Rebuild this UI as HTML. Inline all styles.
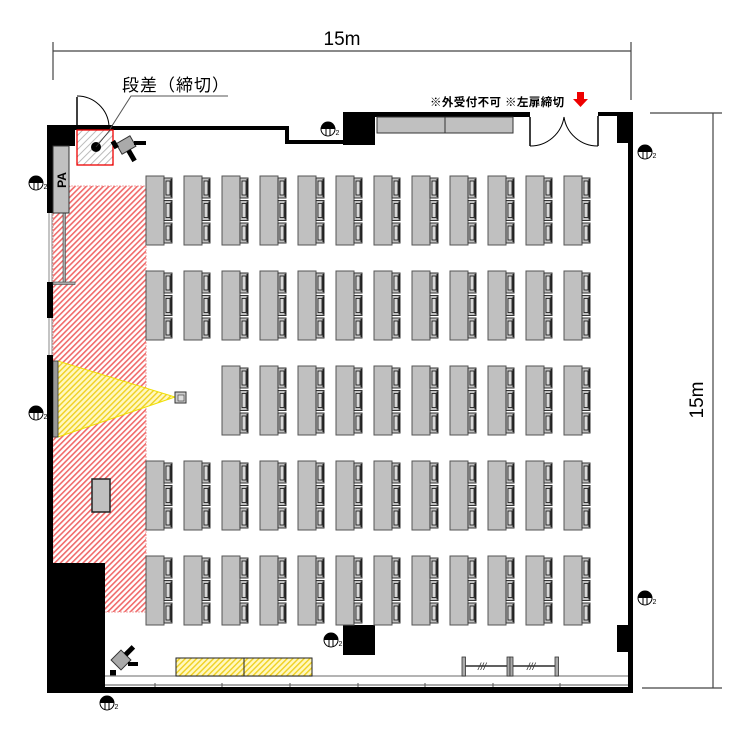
<!DOCTYPE html>
<html><head><meta charset="utf-8"><style>html,body{margin:0;padding:0;background:#fff}svg{display:block}</style></head>
<body>
<svg width="750" height="750" viewBox="0 0 750 750" xmlns="http://www.w3.org/2000/svg">
<defs>
<pattern id="red" width="4" height="4" patternUnits="userSpaceOnUse" patternTransform="rotate(45)"><rect width="4" height="4" fill="#fff"/><rect width="1.6" height="4" fill="#f06a6a"/></pattern>
<pattern id="yel" width="4" height="4" patternUnits="userSpaceOnUse" patternTransform="rotate(45)"><rect width="4" height="4" fill="#fff8c0"/><rect width="1.4" height="4" fill="#f0d020"/></pattern>
<pattern id="gry" width="5" height="5" patternUnits="userSpaceOnUse" patternTransform="rotate(45)"><rect width="5" height="5" fill="#fff"/><rect width="1" height="5" fill="#bbb"/></pattern>
<g id="chair"><rect x="0" y="0" width="8" height="20" fill="#c0c0c0" stroke="#333" stroke-width="1"/><rect x="2" y="3" width="4" height="14" fill="#d8d8d8" stroke="#111" stroke-width="0.8"/><rect x="6.5" y="1" width="1.5" height="18" fill="#222"/></g>
<g id="desk"><rect x="0" y="0" width="18" height="69" fill="#c0c0c0" stroke="#555" stroke-width="1"/><use href="#chair" x="18" y="2"/><use href="#chair" x="18" y="24.5"/><use href="#chair" x="18" y="47"/></g>
<g id="out"><circle cx="0" cy="0" r="7" fill="#fff" stroke="#000" stroke-width="1"/><path d="M-7 0 A7 7 0 0 1 7 0 Z" fill="#000"/><line x1="-2" y1="0" x2="-2" y2="6.5" stroke="#000"/><line x1="2" y1="0" x2="2" y2="6.5" stroke="#000"/><text x="7.5" y="6" font-family="Liberation Sans, sans-serif" font-size="7">2</text></g>
</defs>

<line x1="53" y1="51" x2="631" y2="51" stroke="#444" stroke-width="1.2"/>
<line x1="53" y1="42" x2="53" y2="80" stroke="#444" stroke-width="1.2"/>
<line x1="631" y1="42" x2="631" y2="100" stroke="#444" stroke-width="1.2"/>
<text x="342" y="45" font-family="Liberation Sans, sans-serif" font-size="19" text-anchor="middle">15m</text>
<line x1="713" y1="113" x2="713" y2="688" stroke="#444" stroke-width="1.2"/>
<line x1="650" y1="113" x2="722" y2="113" stroke="#444" stroke-width="1.2"/>
<line x1="642" y1="688" x2="722" y2="688" stroke="#444" stroke-width="1.2"/>
<text transform="translate(703,400) rotate(-90)" font-family="Liberation Sans, sans-serif" font-size="19" text-anchor="middle">15m</text>

<rect x="53" y="186" width="93" height="426" fill="url(#red)" stroke="#e88" stroke-width="0.8" stroke-dasharray="2 1"/>
<polygon points="58,361 58,437 175,397" fill="url(#yel)" stroke="#f0e000" stroke-width="1"/>
<rect x="53" y="361" width="5" height="76" fill="#999" stroke="#333" stroke-width="0.8"/>
<rect x="175" y="392" width="11" height="11" fill="#ccc" stroke="#333"/>
<rect x="178" y="395" width="6" height="6" fill="#ddd" stroke="#333" stroke-width="0.6"/>
<rect x="92" y="479" width="18" height="33" fill="#c0c0c0" stroke="#222" stroke-width="1.5"/>

<g fill="#000">
<rect x="47" y="125" width="66" height="5"/>
<rect x="47" y="125" width="6" height="88"/>
<rect x="47" y="282" width="6" height="36"/>
<rect x="47" y="355" width="6" height="338"/>
<rect x="47" y="563" width="58" height="130"/>
<rect x="47" y="687" width="586" height="6"/>
<rect x="628" y="112" width="5" height="581"/>
<rect x="113" y="126" width="175" height="4"/>
<rect x="285" y="126" width="4" height="18"/>
<rect x="285" y="140" width="60" height="4"/>
<rect x="343" y="112" width="32" height="33"/>
<rect x="343" y="112" width="187" height="5"/>
<rect x="598" y="112" width="35" height="4"/>
<rect x="617" y="112" width="16" height="31"/>
<rect x="343" y="625" width="32" height="30"/>
<rect x="617" y="625" width="16" height="27"/>
<rect x="47" y="128" width="28" height="18"/>
</g>
<line x1="530" y1="117" x2="530" y2="146" stroke="#000" stroke-width="1.5"/>
<line x1="598" y1="116" x2="598" y2="146" stroke="#000" stroke-width="1.5"/>
<line x1="49" y1="213" x2="49" y2="282" stroke="#888"/><line x1="52" y1="213" x2="52" y2="282" stroke="#888"/>
<line x1="49" y1="318" x2="49" y2="355" stroke="#888"/><line x1="52" y1="318" x2="52" y2="355" stroke="#888"/>
<rect x="63" y="213" width="2.5" height="70" fill="#aaa" stroke="#444" stroke-width="0.6"/>
<rect x="53" y="282" width="22" height="2.5" fill="#aaa" stroke="#444" stroke-width="0.6"/>
<rect x="53" y="146" width="16" height="67" fill="#c0c0c0" stroke="#333"/>
<text transform="translate(66,180) rotate(-90)" font-family="Liberation Sans, sans-serif" font-size="12" font-weight="bold" text-anchor="middle">PA</text>

<rect x="77" y="130" width="36" height="35" fill="url(#gry)" stroke="#e00" stroke-width="1.3"/>
<circle cx="96" cy="147" r="5" fill="#000"/>
<line x1="96" y1="147" x2="110" y2="130" stroke="#333" stroke-width="0.8"/>
<line x1="77" y1="97" x2="77" y2="128" stroke="#000" stroke-width="1.5"/>
<path d="M77 96 A32 32 0 0 1 109 126" fill="none" stroke="#000" stroke-width="1"/>
<polyline points="110,129 131,96 228,96" fill="none" stroke="#555" stroke-width="1"/>
<text x="122" y="91" font-family="Liberation Sans, 'Noto Sans CJK JP', sans-serif" font-size="17" letter-spacing="1">段差（締切）</text>

<g transform="translate(126,145) rotate(-30)"><rect x="-8" y="-6" width="16" height="12" fill="#aaa" stroke="#333"/><rect x="-3" y="6" width="5" height="12" fill="#000"/><rect x="-12" y="-10" width="5" height="8" fill="#000"/></g>
<rect x="134" y="141" width="12" height="4" fill="#000"/>
<g transform="translate(121,660) rotate(45)"><rect x="-7" y="-7" width="14" height="14" fill="#aaa" stroke="#333"/><rect x="-3" y="-18" width="5" height="11" fill="#000"/></g>
<rect x="128" y="662" width="10" height="4" fill="#000"/>
<rect x="110" y="670" width="6" height="6" fill="#000"/>

<rect x="377" y="117" width="136" height="16" fill="#c0c0c0" stroke="#333"/>
<line x1="445" y1="117" x2="445" y2="133" stroke="#333"/>

<path d="M530 146 A34 34 0 0 0 564 117" fill="none" stroke="#000"/>
<path d="M598 146 A34 34 0 0 1 564 117" fill="none" stroke="#000"/>
<text x="430" y="106" font-family="Liberation Sans, 'Noto Sans CJK JP', sans-serif" font-size="11.5" font-weight="bold" letter-spacing="0.4">※外受付不可 ※左扉締切</text>
<polygon points="577,92 584,92 584,99 588,99 580.5,107 573,99 577,99" fill="#e00"/>

<g>
<use href="#desk" x="146" y="176"/><use href="#desk" x="184" y="176"/><use href="#desk" x="222" y="176"/><use href="#desk" x="260" y="176"/><use href="#desk" x="298" y="176"/><use href="#desk" x="336" y="176"/><use href="#desk" x="374" y="176"/><use href="#desk" x="412" y="176"/><use href="#desk" x="450" y="176"/><use href="#desk" x="488" y="176"/><use href="#desk" x="526" y="176"/><use href="#desk" x="564" y="176"/>
<use href="#desk" x="146" y="271"/><use href="#desk" x="184" y="271"/><use href="#desk" x="222" y="271"/><use href="#desk" x="260" y="271"/><use href="#desk" x="298" y="271"/><use href="#desk" x="336" y="271"/><use href="#desk" x="374" y="271"/><use href="#desk" x="412" y="271"/><use href="#desk" x="450" y="271"/><use href="#desk" x="488" y="271"/><use href="#desk" x="526" y="271"/><use href="#desk" x="564" y="271"/>
<use href="#desk" x="222" y="366"/><use href="#desk" x="260" y="366"/><use href="#desk" x="298" y="366"/><use href="#desk" x="336" y="366"/><use href="#desk" x="374" y="366"/><use href="#desk" x="412" y="366"/><use href="#desk" x="450" y="366"/><use href="#desk" x="488" y="366"/><use href="#desk" x="526" y="366"/><use href="#desk" x="564" y="366"/>
<use href="#desk" x="146" y="461"/><use href="#desk" x="184" y="461"/><use href="#desk" x="222" y="461"/><use href="#desk" x="260" y="461"/><use href="#desk" x="298" y="461"/><use href="#desk" x="336" y="461"/><use href="#desk" x="374" y="461"/><use href="#desk" x="412" y="461"/><use href="#desk" x="450" y="461"/><use href="#desk" x="488" y="461"/><use href="#desk" x="526" y="461"/><use href="#desk" x="564" y="461"/>
<use href="#desk" x="146" y="556"/><use href="#desk" x="184" y="556"/><use href="#desk" x="222" y="556"/><use href="#desk" x="260" y="556"/><use href="#desk" x="298" y="556"/><use href="#desk" x="336" y="556"/><use href="#desk" x="374" y="556"/><use href="#desk" x="412" y="556"/><use href="#desk" x="450" y="556"/><use href="#desk" x="488" y="556"/><use href="#desk" x="526" y="556"/><use href="#desk" x="564" y="556"/>
</g>

<line x1="105" y1="676" x2="628" y2="676" stroke="#888" stroke-width="1.2"/>
<line x1="105" y1="685" x2="628" y2="685" stroke="#555" stroke-width="1"/>
<g stroke="#555"><line x1="155" y1="683" x2="155" y2="687"/><line x1="222" y1="683" x2="222" y2="687"/><line x1="290" y1="683" x2="290" y2="687"/><line x1="358" y1="683" x2="358" y2="687"/><line x1="425" y1="683" x2="425" y2="687"/><line x1="493" y1="683" x2="493" y2="687"/><line x1="560" y1="683" x2="560" y2="687"/></g>
<rect x="176" y="658" width="136" height="18" fill="url(#yel)" stroke="#222"/>
<line x1="244" y1="658" x2="244" y2="676" stroke="#222"/>
<line x1="463" y1="666" x2="558" y2="666" stroke="#000" stroke-width="1.2"/>
<g fill="#aaa" stroke="#333" stroke-width="0.8"><rect x="462" y="657" width="3.5" height="19"/><rect x="507" y="657" width="3" height="19"/><rect x="510" y="657" width="3" height="19"/><rect x="555" y="657" width="3.5" height="19"/></g>
<text x="478" y="670" font-family="Liberation Sans, sans-serif" font-size="10" font-style="italic" fill="#333">///</text>
<text x="527" y="670" font-family="Liberation Sans, sans-serif" font-size="10" font-style="italic" fill="#333">///</text>

<use href="#out" x="36" y="183"/>
<use href="#out" x="328" y="129"/>
<use href="#out" x="645" y="152"/>
<use href="#out" x="36" y="413"/>
<use href="#out" x="645" y="598"/>
<use href="#out" x="331" y="640"/>
<use href="#out" x="107" y="703"/>
</svg>
</body></html>
